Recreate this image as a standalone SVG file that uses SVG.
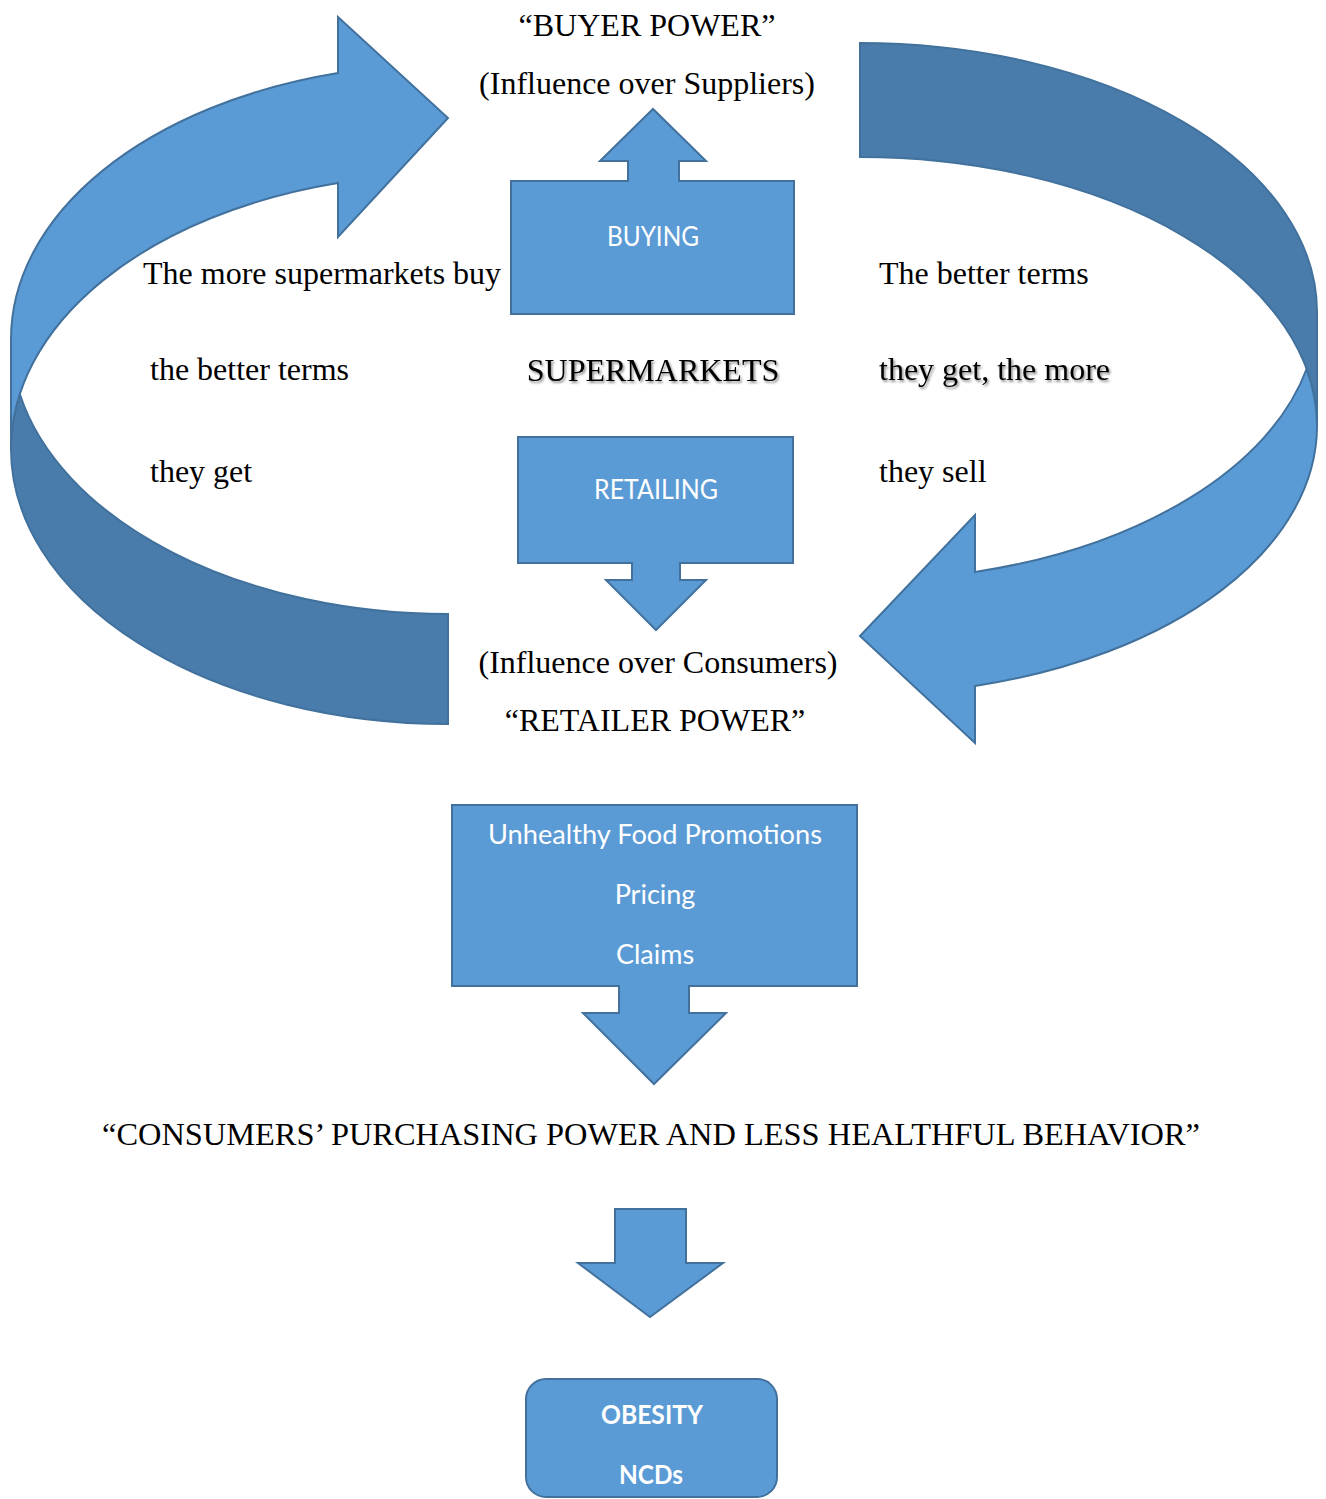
<svg xmlns="http://www.w3.org/2000/svg" width="1326" height="1499" viewBox="0 0 1326 1499">
<defs>
<style>
.shape{fill:#5B9BD5;stroke:#41719C;stroke-width:2;stroke-linejoin:miter}
.dark{fill:#497CAA;stroke:#41719C;stroke-width:2}
.serif{font-family:"Liberation Serif","Times New Roman",serif;font-size:32px;fill:#000}
.cal{font-family:Lato,"Open Sans",sans-serif;font-size:27px;fill:#fff}
.calb{font-family:Lato,"Open Sans",sans-serif;font-size:27px;font-weight:bold;fill:#fff}
.mid{text-anchor:middle}
</style>
<filter id="shadow" x="-10%" y="-30%" width="130%" height="170%">
<feDropShadow dx="1.5" dy="2" stdDeviation="1.2" flood-color="#000" flood-opacity="0.45"/>
</filter>
</defs>
<rect width="1326" height="1499" fill="#fff"/>

<g id="connectors">
<g id="left-curved-arrow">
<path class="dark" d="M 19.8,394 A 437 275 0 0 0 448 614 L 448 724 A 437 275 0 0 1 11 449 A 437 275 0 0 1 19.8 394 Z"/>
<path class="shape" d="M 338,73 A 437 275 0 0 0 11 339 L 11 449 A 437 275 0 0 1 338 183 L 338 237 L 448 118 L 338 17 Z"/>
</g>
<g id="right-curved-arrow">
<path class="dark" d="M 860,43 A 457 269 0 0 1 1317 312 L 1317 426 A 457 269 0 0 0 860 157 Z"/>
<path class="shape" d="M 1306.6,369 A 457 269 0 0 1 975 572 L 975 515 L 860 636 L 975 743 L 975 686 A 457 269 0 0 0 1317 426 A 457 269 0 0 0 1306.6 369 Z"/>
</g>
<path id="arrow-to-obesity" class="shape" d="M 615,1209 H 686 V 1263 H 723 L 650,1317 L 578,1263 H 615 Z"/>
</g>

<g id="buyer-power">
<text class="serif mid" x="647" y="36">“BUYER POWER”</text>
<text class="serif mid" x="647" y="94">(Influence over Suppliers)</text>
</g>

<g id="buying">
<path class="shape" d="M 511,181 H 628 V 161 H 600 L 653,109 L 706,161 H 679 V 181 H 794 V 314 H 511 Z"/>
<text class="cal mid" x="653" y="246" textLength="92" lengthAdjust="spacingAndGlyphs">BUYING</text>
</g>

<g id="left-text">
<text class="serif" x="143" y="284">The more supermarkets buy</text>
<text class="serif" x="150" y="380">the better terms</text>
<text class="serif" x="150" y="482">they get</text>
</g>

<g id="right-text">
<text class="serif" x="879" y="284">The better terms</text>
<text class="serif" x="879" y="380" filter="url(#shadow)">they get, the more</text>
<text class="serif" x="879" y="482">they sell</text>
</g>

<g id="supermarkets">
<text class="serif mid" x="653" y="381" filter="url(#shadow)">SUPERMARKETS</text>
</g>

<g id="retailing">
<path class="shape" d="M 518,437 H 793 V 563 H 680 V 580 H 706 L 656,630 L 606,580 H 632 V 563 H 518 Z"/>
<text class="cal mid" x="656" y="499" textLength="124" lengthAdjust="spacingAndGlyphs">RETAILING</text>
</g>

<g id="retailer-power">
<text class="serif mid" x="658" y="673">(Influence over Consumers)</text>
<text class="serif mid" x="655" y="731">“RETAILER POWER”</text>
</g>

<g id="promotions">
<path class="shape" d="M 452,805 H 857 V 986 H 689 V 1013 H 726 L 654,1084 L 583,1013 H 619 V 986 H 452 Z"/>
<text class="cal mid" x="655" y="844" textLength="334" lengthAdjust="spacingAndGlyphs">Unhealthy Food Promotions</text>
<text class="cal mid" x="655" y="904">Pricing</text>
<text class="cal mid" x="655" y="964">Claims</text>
</g>

<g id="consumers">
<text class="serif mid" x="651" y="1145" textLength="1098" lengthAdjust="spacingAndGlyphs">“CONSUMERS’ PURCHASING POWER AND LESS HEALTHFUL BEHAVIOR”</text>
</g>

<g id="obesity">
<rect class="shape" x="526" y="1379" width="251" height="118" rx="20"/>
<text class="calb mid" x="652" y="1424" textLength="102" lengthAdjust="spacingAndGlyphs">OBESITY</text>
<text class="calb mid" x="651" y="1484" textLength="64" lengthAdjust="spacingAndGlyphs">NCDs</text>
</g>
</svg>
